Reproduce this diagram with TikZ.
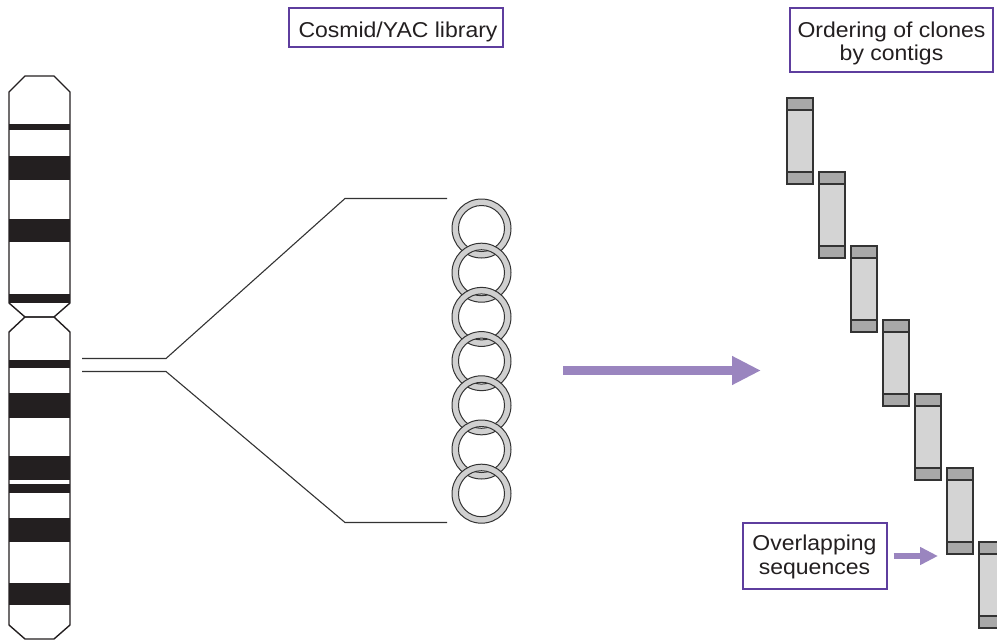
\documentclass[tikz,border=0pt]{standalone}
\usepackage{fontspec}
\setmainfont{Liberation Sans}[FakeStretch=1.07]
\usetikzlibrary{arrows.meta}

\definecolor{inkdark}{HTML}{231F20}
\definecolor{linegray}{HTML}{333333}
\definecolor{framepurple}{HTML}{5E3E9E}
\definecolor{arrowpurple}{HTML}{9A85BF}
\definecolor{ringgray}{HTML}{D0D0D0}
\definecolor{clonelight}{HTML}{D4D4D4}
\definecolor{clonecap}{HTML}{A8A8A8}

\tikzset{
  labelbox/.style={draw=framepurple, line width=1.4pt, fill=white, inner sep=0pt},
  labeltext/.style={anchor=base, inner sep=0pt, text=inkdark,
    font=\fontsize{21.5}{24}\selectfont},
  chromoline/.style={draw=inkdark, line width=1.4pt, line join=miter},
  band/.style={fill=inkdark},
  bracket/.style={draw=linegray, line width=1.1pt},
  ring/.style={draw=linegray, line width=1pt, fill=ringgray, even odd rule},
  bigarrow/.style={draw=arrowpurple, line width=9pt, line cap=butt,
    -{Triangle[length=29pt, width=27pt]}},
  smallarrow/.style={draw=arrowpurple, line width=6pt, line cap=butt,
    -{Triangle[length=18pt, width=17pt]}},
  pics/clone/.style={code={
    \path[draw=linegray, line width=1.1pt, fill=clonelight] (0,0) rectangle (26,86);
    \path[draw=linegray, line width=1.1pt, fill=clonecap] (0,0) rectangle (26,12);
    \path[draw=linegray, line width=1.1pt, fill=clonecap] (0,74) rectangle (26,86);
  }}
}

\begin{document}
\begin{tikzpicture}[x=1pt, y=-1pt]
  \useasboundingbox (0,0) rectangle (997,640);

  % ---- chromosome: bands first, outline on top ----
  \foreach \ya/\yb in {124/130, 156/180, 219/242, 294/303,
                       360/368, 393/418, 456/480, 484/493, 518/542, 583/605}
    \fill[band] (9,\ya) rectangle (70,\yb);
  % upper arm
  \path[chromoline] (25,76) -- (54,76) -- (70,92) -- (70,303) -- (54,317)
    -- (25,317) -- (9,303) -- (9,92) -- cycle;
  % lower arm
  \path[chromoline] (25,317) -- (54,317) -- (70,332) -- (70,625) -- (54,639)
    -- (25,639) -- (9,625) -- (9,332) -- cycle;

  % ---- region expanded into the library ----
  \coordinate (ua) at (82,358.5);  \coordinate (ub) at (166,358.5);
  \coordinate (uc) at (345,198.5); \coordinate (ud) at (447,198.5);
  \coordinate (la) at (82,371.5);  \coordinate (lb) at (166,371.5);
  \coordinate (lc) at (345,522.5); \coordinate (ld) at (447,522.5);
  \path[bracket] (ua) -- (ub) -- (uc) -- (ud);
  \path[bracket] (la) -- (lb) -- (lc) -- (ld);

  % ---- chain of cloned fragments ----
  \foreach \i in {0,...,6} {
    \coordinate (ring\i) at (481.5, 228.5 + \i*44.2);
    \path[ring] (ring\i) circle (29.5) (ring\i) circle (23);
  }

  % ---- ordered clones (contigs) ----
  \foreach \i in {0,...,6}
    \pic at (787 + \i*32, 98 + \i*74) {clone};

  % ---- labels ----
  \node[labelbox, minimum width=214pt, minimum height=39pt] (lib) at (396,27.5) {};
  \node[labeltext] (libtext) at (398,37.5) {Cosmid/YAC library};

  \node[labelbox, minimum width=203pt, minimum height=64pt] (ord) at (891.5,40) {};
  \node[labeltext] (ordtexta) at (891.5,37.5) {Ordering of clones};
  \node[labeltext] (ordtextb) at (891.5,60.5) {by contigs};

  \node[labelbox, minimum width=144pt, minimum height=66pt] (ovl) at (815,556) {};
  \node[labeltext] (ovltexta) at (814.5,550.5) {Overlapping};
  \node[labeltext] (ovltextb) at (814.5,574.5) {sequences};

  % ---- arrows ----
  \coordinate (bigstart) at (563,370.5);
  \coordinate (bigend) at (761,370.5);
  \path[bigarrow] (bigstart) -- (bigend);
  \coordinate (overlaptip) at (938,556);
  \path[smallarrow] ([xshift=6pt]ovl.east) -- (overlaptip);
\end{tikzpicture}
\end{document}
